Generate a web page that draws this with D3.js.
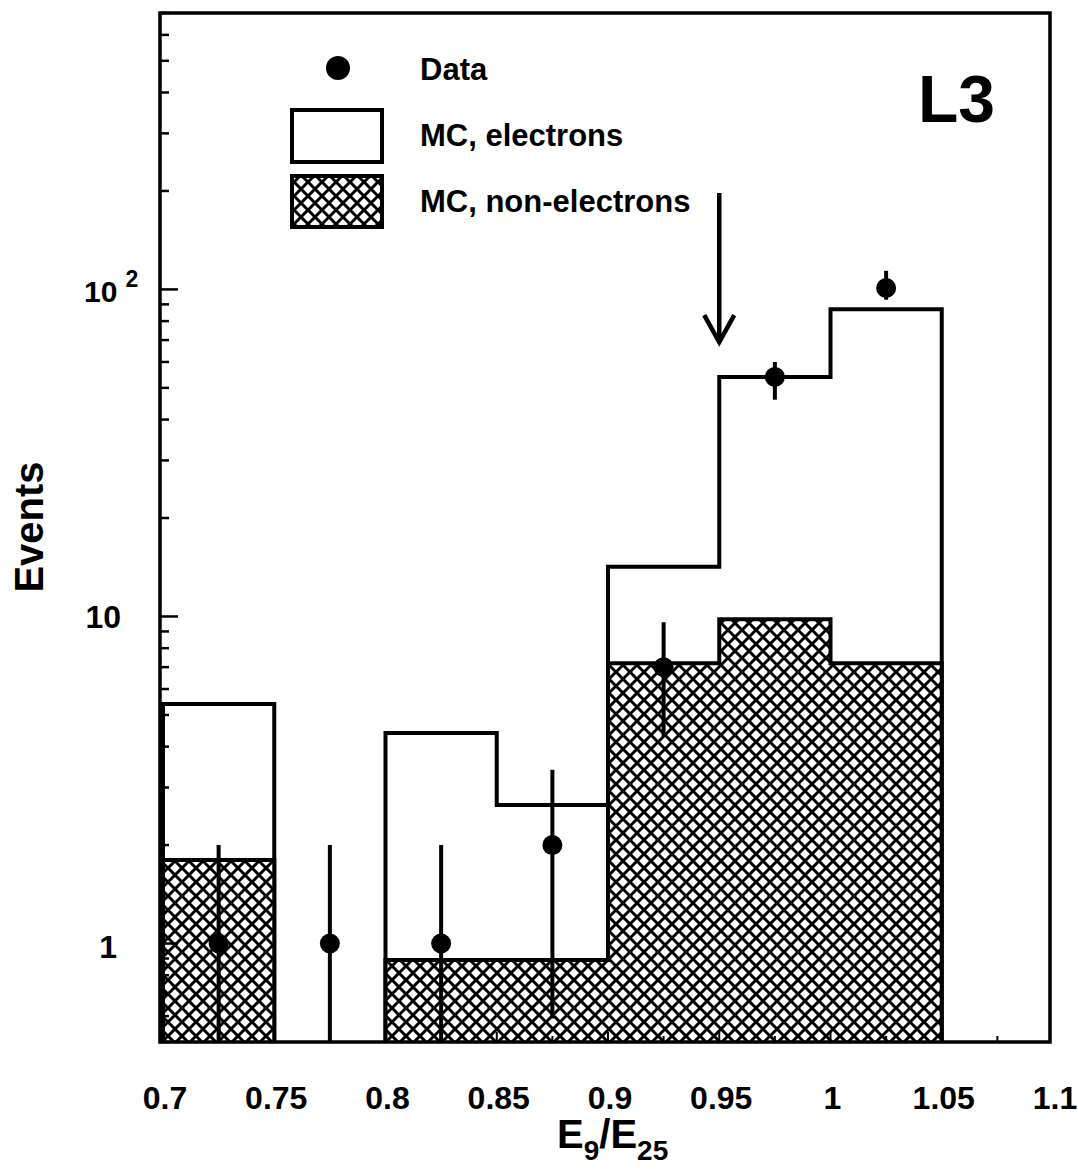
<!DOCTYPE html>
<html>
<head>
<meta charset="utf-8">
<script src="https://cdn.jsdelivr.net/npm/d3@7"></script>
<style>
  body { margin: 0; background: #fff; }
  text { font-family: "Liberation Sans", Arial, sans-serif; font-weight: bold; fill: #000; }
</style>
</head>
<body>
<div id="chart"></div>
<script>
// bin edges and MC histograms (events per bin, 0 = empty)
const binEdges = [0.7, 0.75, 0.8, 0.85, 0.9, 0.95, 1.0, 1.05]
const mcElectrons = [5.4, 0, 4.4, 2.65, 14.2, 54, 87]
const mcNonElectrons = [1.8, 0, 0.89, 0.89, 7.2, 9.8, 7.2]

// data points with error bars
const dataX = [0.725, 0.775, 0.825, 0.875, 0.925, 0.975, 1.025]
const dataY = [1, 1, 1, 2, 7, 54, 101]
const dataHi = [2.0, 2.0, 2.0, 3.4, 9.6, 60, 114]
const dataLo = [0, 0, 0, 0.59, 4.3, 46, 93]

const xTicks = [0.7, 0.75, 0.8, 0.85, 0.9, 0.95, 1.0, 1.05, 1.1]
const xTickLabels = ['0.7', '0.75', '0.8', '0.85', '0.9', '0.95', '1', '1.05', '1.1']
const cutValue = 0.95
const arrowFrom = 197
const arrowTo = 69

const width = 1078
const height = 1170
const m = { left: 160, right: 1050, top: 13, bottom: 1042 }

const svg = d3.select('#chart').append('svg')
  .attr('width', width)
  .attr('height', height)

const x = d3.scaleLinear().domain([0.7, 1.1]).range([m.left + 3, m.right + 3])
const y = d3.scaleLog().domain([0.5, 700]).range([m.bottom, m.top])
const yMin = y.domain()[0]

const defs = svg.append('defs')
const pat = defs.append('pattern')
  .attr('id', 'hatch')
  .attr('patternUnits', 'userSpaceOnUse')
  .attr('width', 14)
  .attr('height', 14)
pat.append('rect').attr('width', 14).attr('height', 14).attr('fill', '#fff')
pat.append('path')
  .attr('d', 'M-1,-1 L15,15 M15,-1 L-1,15')
  .attr('stroke', '#000')
  .attr('stroke-width', 3)

defs.append('clipPath').attr('id', 'plot')
  .append('rect')
  .attr('x', m.left).attr('y', m.top)
  .attr('width', m.right - m.left).attr('height', m.bottom - m.top)

const plot = svg.append('g').attr('clip-path', 'url(#plot)')

// step outline for a histogram, broken where a bin is empty
function stepPath (vals) {
  let d = ''
  let open = false
  vals.forEach((v, i) => {
    const x0 = x(binEdges[i])
    const x1 = x(binEdges[i + 1])
    if (v > 0) {
      if (!open) { d += 'M' + x0 + ',' + y(yMin); open = true }
      d += 'L' + x0 + ',' + y(v) + 'L' + x1 + ',' + y(v)
    } else if (open) {
      d += 'L' + x0 + ',' + y(yMin)
      open = false
    }
    if (open && i === vals.length - 1) d += 'L' + x1 + ',' + y(yMin)
  })
  return d
}

plot.append('path')
  .attr('d', stepPath(mcElectrons))
  .attr('fill', '#fff')
  .attr('stroke', '#000')
  .attr('stroke-width', 4)
  .attr('stroke-linejoin', 'miter')

plot.append('path')
  .attr('d', stepPath(mcNonElectrons))
  .attr('fill', 'url(#hatch)')
  .attr('stroke', '#000')
  .attr('stroke-width', 4)

// error bars and data points
const pts = dataX.map((v, i) => ({ x: v, y: dataY[i], hi: dataHi[i], lo: dataLo[i] }))

plot.selectAll('line.err')
  .data(pts)
  .enter().append('line')
  .attr('class', 'err')
  .attr('x1', d => x(d.x)).attr('x2', d => x(d.x))
  .attr('y1', d => y(d.hi))
  .attr('y2', d => y(Math.max(d.lo, yMin)))
  .attr('stroke', '#000')
  .attr('stroke-width', 4)

plot.selectAll('circle.pt')
  .data(pts)
  .enter().append('circle')
  .attr('class', 'pt')
  .attr('cx', d => x(d.x))
  .attr('cy', d => y(d.y))
  .attr('r', 10)
  .attr('fill', '#000')

// cut arrow
const arrow = svg.append('g')
  .attr('stroke', '#000')
  .attr('stroke-width', 4.5)
  .attr('fill', 'none')
arrow.append('line')
  .attr('x1', x(cutValue)).attr('x2', x(cutValue))
  .attr('y1', y(arrowFrom)).attr('y2', y(arrowTo))
arrow.append('path')
  .attr('d', 'M' + (x(cutValue) - 15) + ',' + (y(arrowTo) - 27) +
    'L' + x(cutValue) + ',' + y(arrowTo) +
    'L' + (x(cutValue) + 15) + ',' + (y(arrowTo) - 27))

// frame
svg.append('rect')
  .attr('x', m.left).attr('y', m.top)
  .attr('width', m.right - m.left).attr('height', m.bottom - m.top)
  .attr('fill', 'none')
  .attr('stroke', '#000')
  .attr('stroke-width', 3.5)

// y ticks (log: majors at decades, minors between)
const yMinor = []
;[0.1, 1, 10, 100].forEach(dec => {
  for (let k = 2; k <= 9; k++) {
    const v = dec * k
    if (v >= 0.5 && v <= 700) yMinor.push(v)
  }
})
svg.selectAll('line.ymin')
  .data(yMinor)
  .enter().append('line')
  .attr('x1', m.left).attr('x2', m.left + 9)
  .attr('y1', d => y(d)).attr('y2', d => y(d))
  .attr('stroke', '#000').attr('stroke-width', 2.5)

svg.selectAll('line.ymaj')
  .data([1, 10, 100])
  .enter().append('line')
  .attr('x1', m.left).attr('x2', m.left + 18)
  .attr('y1', d => y(d)).attr('y2', d => y(d))
  .attr('stroke', '#000').attr('stroke-width', 2.5)

svg.append('text')
  .attr('x', 117).attr('y', y(1) + 14)
  .attr('text-anchor', 'end')
  .style('font-size', '32px')
  .text('1')
svg.append('text')
  .attr('x', 121).attr('y', y(10) + 12)
  .attr('text-anchor', 'end')
  .style('font-size', '32px')
  .text('10')
const t100 = svg.append('text')
  .attr('x', 84).attr('y', y(100) + 13)
  .style('font-size', '30px')
t100.append('tspan').text('10')
t100.append('tspan').attr('dx', 8).attr('dy', -15).style('font-size', '23px').text('2')

// x ticks (only inside the frame)
const xMinor = d3.range(0, 16).map(i => 0.7 + i * 0.025)
svg.selectAll('line.xt')
  .data(xMinor)
  .enter().append('line')
  .attr('x1', d => x(d)).attr('x2', d => x(d))
  .attr('y1', m.bottom)
  .attr('y2', (d, i) => m.bottom - (i % 2 === 0 ? 10 : 6))
  .attr('stroke', '#000').attr('stroke-width', 2)

svg.selectAll('text.xl')
  .data(xTicks)
  .enter().append('text')
  .attr('class', 'xl')
  .attr('x', d => x(d) + 2)
  .attr('y', 1109)
  .attr('text-anchor', 'middle')
  .style('font-size', '32px')
  .text((d, i) => xTickLabels[i])

// axis titles
const xt = svg.append('text')
  .attr('x', 557).attr('y', 1148)
  .style('font-size', '40px')
xt.append('tspan').text('E')
xt.append('tspan').attr('dy', 12).style('font-size', '28px').text('9')
xt.append('tspan').attr('dy', -12).text('/E')
xt.append('tspan').attr('dy', 12).style('font-size', '28px').text('25')

svg.append('text')
  .attr('transform', 'translate(43,527) rotate(-90)')
  .attr('text-anchor', 'middle')
  .style('font-size', '40px')
  .text('Events')

// legend
svg.append('circle').attr('cx', 338).attr('cy', 68).attr('r', 12).attr('fill', '#000')
svg.append('rect')
  .attr('x', 292).attr('y', 110).attr('width', 90).attr('height', 52)
  .attr('fill', '#fff').attr('stroke', '#000').attr('stroke-width', 4)
svg.append('rect')
  .attr('x', 292).attr('y', 176).attr('width', 90).attr('height', 51)
  .attr('fill', 'url(#hatch)').attr('stroke', '#000').attr('stroke-width', 4)

const legendText = ['Data', 'MC, electrons', 'MC, non-electrons']
const legendY = [80, 146, 212]
svg.selectAll('text.leg')
  .data(legendText)
  .enter().append('text')
  .attr('class', 'leg')
  .attr('x', 420)
  .attr('y', (d, i) => legendY[i])
  .style('font-size', '31px')
  .text(d => d)

svg.append('text')
  .attr('x', 918).attr('y', 122)
  .style('font-size', '66px')
  .text('L3')
</script>
</body>
</html>
